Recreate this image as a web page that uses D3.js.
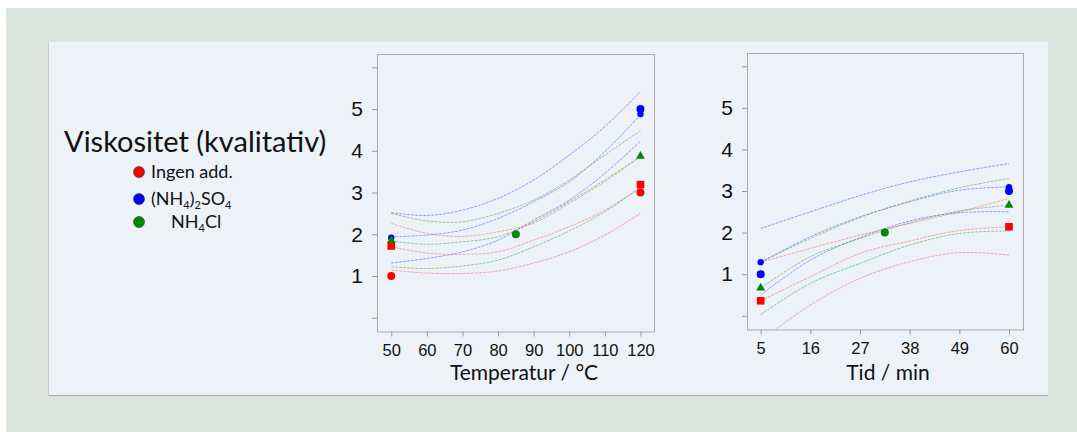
<!DOCTYPE html>
<html lang="no">
<head>
<meta charset="utf-8">
<title>Viskositet (kvalitativ)</title>
<script src="https://cdn.jsdelivr.net/npm/d3@7"></script>
<style>
  body { margin: 0; background: #ffffff; }
  svg { display: block; font-family: Lato, "Open Sans", sans-serif; }
  .tick line { stroke: #9a9a9a; }
  .tick text { fill: #111111; }
</style>
</head>
<body>
<svg id="chart" width="1077" height="432"></svg>
<script>
// ---------- data ----------
var yTicks = [0, 1, 2, 3, 4, 5, 6];
var yLabels = ["", "1", "2", "3", "4", "5", ""];

var tempTicks = [50, 60, 70, 80, 90, 100, 110, 120];
var timeTicks = [5, 16, 27, 38, 49, 60];

var tempBlueUpper  = [2.52, 2.45, 2.58, 2.86, 3.30, 3.90, 4.58, 5.42];
var tempBlueFit    = [1.94, 1.98, 2.10, 2.38, 2.78, 3.26, 3.98, 4.86];
var tempBlueLower  = [1.31, 1.42, 1.58, 1.86, 2.34, 2.82, 3.46, 4.23];
var tempGreenUpper = [2.50, 2.32, 2.30, 2.50, 2.82, 3.30, 3.90, 4.48];
var tempGreenFit   = [1.84, 1.76, 1.82, 1.94, 2.30, 2.78, 3.30, 3.87];
var tempGreenLower = [1.22, 1.18, 1.24, 1.38, 1.70, 2.08, 2.54, 3.12];
var tempRedUpper   = [2.26, 2.02, 1.95, 2.06, 2.27, 2.74, 3.26, 3.86];
var tempRedFit     = [1.70, 1.55, 1.52, 1.58, 1.86, 2.18, 2.58, 3.12];
var tempRedLower   = [1.14, 1.07, 1.06, 1.12, 1.31, 1.58, 1.98, 2.50];

var timeBlueUpper  = [2.10, 2.50, 2.89, 3.22, 3.46, 3.66];
var timeBlueFit    = [1.29, 1.90, 2.38, 2.74, 3.02, 3.10];
var timeBlueLower  = [0.50, 1.34, 1.88, 2.28, 2.48, 2.50];
var timeGreenUpper = [1.29, 1.86, 2.36, 2.76, 3.08, 3.30];
var timeGreenFit   = [0.67, 1.42, 1.86, 2.24, 2.52, 2.66];
var timeGreenLower = [0.03, 0.78, 1.26, 1.70, 1.98, 2.04];
var timeRedUpper   = [1.29, 1.62, 1.94, 2.22, 2.50, 2.82];
var timeRedFit     = [0.36, 0.94, 1.50, 1.80, 2.05, 2.14];
var timeRedLower   = [-0.60, 0.26, 0.90, 1.30, 1.52, 1.46];

// measured points [x, y, series, shape]
var tempPoints = [
  [50, 1.00, "red", "circle"], [50, 1.72, "red", "square"],
  [120, 3.00, "red", "circle"], [120, 3.19, "red", "square"],
  [50, 1.92, "blue", "dot"], [120, 5.00, "blue", "circle"], [120, 4.88, "blue", "dot"],
  [50, 1.85, "green", "triangle"], [85, 2.00, "green", "circle"], [120, 3.87, "green", "triangle"]
];
var timePoints = [
  [5, 0.36, "red", "square"], [60, 2.14, "red", "square"],
  [5, 1.29, "blue", "dot"], [5, 1.00, "blue", "circle"], [60, 3.09, "blue", "dot"], [60, 3.00, "blue", "circle"],
  [5, 0.67, "green", "triangle"], [32.5, 2.00, "green", "circle"], [60, 2.66, "green", "triangle"]
];

var legendNames = ["red", "blue", "green"];

var colors = { red: "#ff0000", blue: "#0000ff", green: "#008a00" };
var lineColors = { red: "#ff5a5a", blue: "#4a4aff", green: "#3aa03a" };

// ---------- page ----------
var svg = d3.select("#chart");

svg.append("rect").attr("x", 6).attr("y", 8).attr("width", 1071).attr("height", 424).attr("fill", "#dbe5dd");
svg.append("rect").attr("x", 48).attr("y", 42).attr("width", 1000).attr("height", 354).attr("fill", "#edf2f9");
svg.append("line").attr("x1", 48).attr("x2", 1048).attr("y1", 395.5).attr("y2", 395.5).attr("stroke", "#a9a9a9");
svg.append("line").attr("x1", 48.5).attr("x2", 48.5).attr("y1", 42).attr("y2", 396).attr("stroke", "#c9ccd2");

// ---------- legend ----------
svg.append("text")
  .attr("x", 64).attr("y", 152)
  .attr("font-size", 29)
  .attr("fill", "#111")
  .text("Viskositet (kvalitativ)");

var legY = [172, 199, 222];
svg.selectAll(".legdot").data(legendNames).enter().append("circle")
  .attr("cx", 139).attr("cy", function(d, i) { return legY[i]; })
  .attr("r", 5.5)
  .attr("fill", function(d) { return colors[d]; })
  .attr("stroke", "#333").attr("stroke-width", 0.6);

var legSize = 18, subSize = 11;
var leg1 = svg.append("text").attr("x", 151).attr("y", legY[0] + 6).attr("font-size", legSize).attr("fill", "#111");
leg1.text("Ingen add.");

var leg2 = svg.append("text").attr("x", 151).attr("y", legY[1] + 6).attr("font-size", legSize).attr("fill", "#111");
leg2.append("tspan").text("(NH");
leg2.append("tspan").attr("font-size", subSize).attr("dy", 3.5).text("4");
leg2.append("tspan").attr("dy", -3.5).text(")");
leg2.append("tspan").attr("font-size", subSize).attr("dy", 3.5).text("2");
leg2.append("tspan").attr("dy", -3.5).text("SO");
leg2.append("tspan").attr("font-size", subSize).attr("dy", 3.5).text("4");

var leg3 = svg.append("text").attr("x", 171).attr("y", legY[2] + 6).attr("font-size", legSize).attr("fill", "#111");
leg3.append("tspan").text("NH");
leg3.append("tspan").attr("font-size", subSize).attr("dy", 3.5).text("4");
leg3.append("tspan").attr("dy", -3.5).text("Cl");

// ---------- panels ----------
function drawPanel(opt) {
  var x = d3.scaleLinear().domain(opt.xDomain).range([opt.left, opt.right]);
  var y = d3.scaleLinear().domain([-0.33, 6.32]).range([opt.bottom, opt.top]);
  var g = svg.append("g");

  g.append("clipPath").attr("id", opt.id + "clip")
    .append("rect").attr("x", opt.left).attr("y", opt.top)
    .attr("width", opt.right - opt.left).attr("height", opt.bottom - opt.top);

  g.append("rect")
    .attr("x", opt.left + 0.5).attr("y", opt.top + 0.5)
    .attr("width", opt.right - opt.left).attr("height", opt.bottom - opt.top)
    .attr("fill", "none").attr("stroke", "#ababab");

  var yAxis = g.append("g")
    .attr("transform", "translate(" + opt.left + ",0)")
    .call(d3.axisLeft(y).tickValues(yTicks).tickSize(5).tickPadding(9)
      .tickFormat(function(d, i) { return yLabels[i]; }));
  yAxis.select(".domain").remove();
  yAxis.selectAll("text").attr("font-size", 21).attr("font-family", null);

  var xAxis = g.append("g")
    .attr("transform", "translate(0," + opt.bottom + ")")
    .call(d3.axisBottom(x).tickValues(opt.ticks).tickSize(5).tickPadding(8));
  xAxis.select(".domain").remove();
  xAxis.selectAll("text").attr("font-size", 16.5).attr("font-family", null);

  g.append("text")
    .attr("x", opt.titleX)
    .attr("y", 380)
    .attr("text-anchor", "middle")
    .attr("font-size", 21)
    .attr("fill", "#111")
    .text(opt.title);

  var line = d3.line()
    .x(function(d) { return x(d[0]); })
    .y(function(d) { return y(d[1]); })
    .curve(d3.curveCatmullRom.alpha(0.5));

  var curves = g.append("g").attr("clip-path", "url(#" + opt.id + "clip)");
  opt.curves.forEach(function(c) {
    var pts = c.values.map(function(v, i) { return [opt.ticks[i], v]; });
    curves.append("path")
      .attr("d", line(pts))
      .attr("fill", "none")
      .attr("stroke", lineColors[c.color])
      .attr("stroke-width", 1)
      .attr("stroke-opacity", 0.5)
      .attr("stroke-dasharray", "3,1");
  });

  var marks = g.append("g");
  opt.points.forEach(function(p) {
    var px = x(p[0]), py = y(p[1]), col = colors[p[2]];
    if (p[3] === "circle") {
      marks.append("circle").attr("cx", px).attr("cy", py).attr("r", 4).attr("fill", col);
    } else if (p[3] === "dot") {
      marks.append("circle").attr("cx", px).attr("cy", py).attr("r", 3.2).attr("fill", col);
    } else if (p[3] === "square") {
      marks.append("rect").attr("x", px - 3.8).attr("y", py - 3.8).attr("width", 7.6).attr("height", 7.6).attr("fill", col);
    } else {
      marks.append("path").attr("d", d3.symbol(d3.symbolTriangle, 34)()).attr("transform", "translate(" + px + "," + py + ")").attr("fill", col);
    }
  });
}

drawPanel({
  id: "temp", left: 377, right: 654, top: 54, bottom: 331.5,
  xDomain: [46, 123.8], ticks: tempTicks, title: "Temperatur / \u00b0C", titleX: 524,
  curves: [
    { color: "blue", values: tempBlueUpper }, { color: "blue", values: tempBlueFit }, { color: "blue", values: tempBlueLower },
    { color: "green", values: tempGreenUpper }, { color: "green", values: tempGreenFit }, { color: "green", values: tempGreenLower },
    { color: "red", values: tempRedUpper }, { color: "red", values: tempRedFit }, { color: "red", values: tempRedLower }
  ],
  points: tempPoints
});

drawPanel({
  id: "time", left: 747, right: 1023, top: 53, bottom: 329.5,
  xDomain: [1.97, 63.1], ticks: timeTicks, title: "Tid / min", titleX: 888,
  curves: [
    { color: "blue", values: timeBlueUpper }, { color: "blue", values: timeBlueFit }, { color: "blue", values: timeBlueLower },
    { color: "green", values: timeGreenUpper }, { color: "green", values: timeGreenFit }, { color: "green", values: timeGreenLower },
    { color: "red", values: timeRedUpper }, { color: "red", values: timeRedFit }, { color: "red", values: timeRedLower }
  ],
  points: timePoints
});
</script>
</body>
</html>
